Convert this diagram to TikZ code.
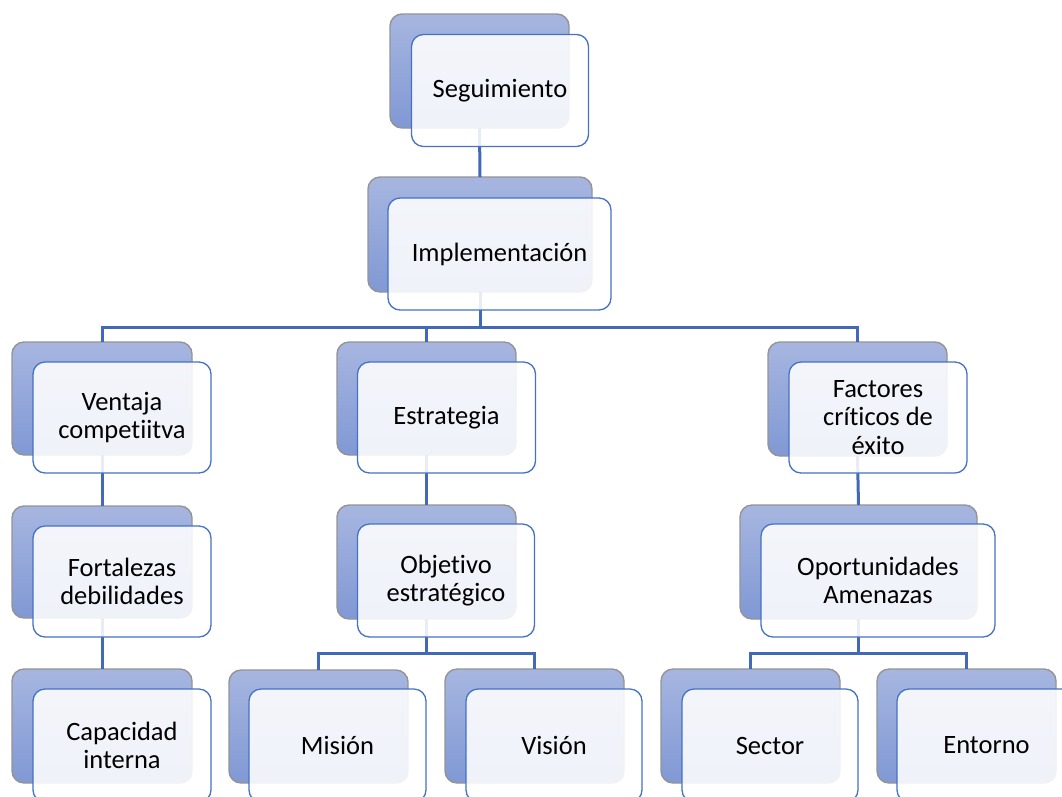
\documentclass[tikz,border=0pt]{standalone}
\usepackage{fontspec}
\setmainfont{Carlito}[Ligatures=NoCommon]
\definecolor{backtop}{HTML}{A7B6E0}
\definecolor{backbot}{HTML}{8098D4}
\definecolor{edgeblue}{HTML}{4472C4}
\definecolor{lineblue}{HTML}{4169B8}
\tikzset{
  backbox/.style={rectangle, rounded corners=12pt, inner sep=0pt, outer sep=0pt,
    top color=backtop, bottom color=backbot, draw=black!42, line width=1.4pt},
  frontbox/.style={rectangle, rounded corners=12pt, inner sep=0pt, outer sep=0pt,
    fill=white, fill opacity=0.88, text opacity=1, draw=edgeblue, draw opacity=1,
    line width=1.3pt, align=center, font=\fontsize{26.5}{28.5}\selectfont},
  conn/.style={draw=lineblue, line width=3pt}
}
\begin{document}
\begin{tikzpicture}[x=1pt,y=-1pt]
\useasboundingbox (0,0) rectangle (1062,796);
\clip (0,0) rectangle (1062,796);
% back boxes
\node[backbox, minimum width=179, minimum height=114] (b1) at (479.5,71) {};
\node[backbox, minimum width=224, minimum height=115] (b2) at (480,234.5) {};
\node[backbox, minimum width=180, minimum height=113] (b3) at (102,398.5) {};
\node[backbox, minimum width=179, minimum height=113] (b4) at (426.5,398.5) {};
\node[backbox, minimum width=179, minimum height=114] (b5) at (857.5,399) {};
\node[backbox, minimum width=180, minimum height=112] (b6) at (102,562) {};
\node[backbox, minimum width=179, minimum height=114] (b7) at (426.5,562) {};
\node[backbox, minimum width=237, minimum height=114] (b8) at (858.5,562) {};
\node[backbox, minimum width=180, minimum height=114] (b9) at (102,726) {};
\node[backbox, minimum width=179, minimum height=113] (b10) at (318.5,726.5) {};
\node[backbox, minimum width=179, minimum height=114] (b11) at (534.5,726) {};
\node[backbox, minimum width=179, minimum height=114] (b12) at (750.5,726) {};
\node[backbox, minimum width=179, minimum height=114] (b13) at (966.5,726) {};
% connectors
\draw[conn] (b1.south) -- (b2.north);
\draw[conn] (b2.south) -- (b2.south |- 0,327) -| (b3.north);
\draw[conn] (b2.south |- 0,327) -| (b4.north);
\draw[conn] (b2.south |- 0,327) -| (b5.north);
\draw[conn] (b3.south) -- (b6.north);
\draw[conn] (b4.south) -- (b7.north);
\draw[conn] (b5.south) -- (b8.north);
\draw[conn] (b6.south) -- (b9.north);
\draw[conn] (b7.south) -- (b7.south |- 0,653) -| (b10.north);
\draw[conn] (b7.south |- 0,653) -| (b11.north);
\draw[conn] (b8.south) -- (b8.south |- 0,653) -| (b12.north);
\draw[conn] (b8.south |- 0,653) -| (b13.north);
% front boxes
\node[frontbox, minimum width=177, minimum height=112] (f1) at (500,90.5) {Seguimiento};
\node[frontbox, minimum width=223, minimum height=112] (f2) at (499.5,254) {Implementación};
\node[frontbox, minimum width=178, minimum height=111] (f3) at (122,417.5) {Ventaja\\competiitva};
\node[frontbox, minimum width=178, minimum height=111] (f4) at (446.5,417.5) {Estrategia};
\node[frontbox, minimum width=178, minimum height=111] (f5) at (878,417.5) {Factores\\críticos de\\éxito};
\node[frontbox, minimum width=178, minimum height=111] (f6) at (122,581.5) {Fortalezas\\debilidades};
\node[frontbox, minimum width=177, minimum height=113] (f7) at (446,580.5) {Objetivo\\estratégico};
\node[frontbox, minimum width=234, minimum height=113] (f8) at (878,580.5) {Oportunidades\\Amenazas};
\node[frontbox, minimum width=178, minimum height=113] (f9) at (122,745.5) {Capacidad\\interna};
\node[frontbox, minimum width=177, minimum height=113] (f10) at (337.5,745.5) {Misión};
\node[frontbox, minimum width=176, minimum height=113] (f11) at (554,745.5) {Visión};
\node[frontbox, minimum width=176, minimum height=113] (f12) at (770,745.5) {Sector};
\node[frontbox, minimum width=179, minimum height=113] (f13) at (986.5,745.5) {Entorno};
\end{tikzpicture}
\end{document}
